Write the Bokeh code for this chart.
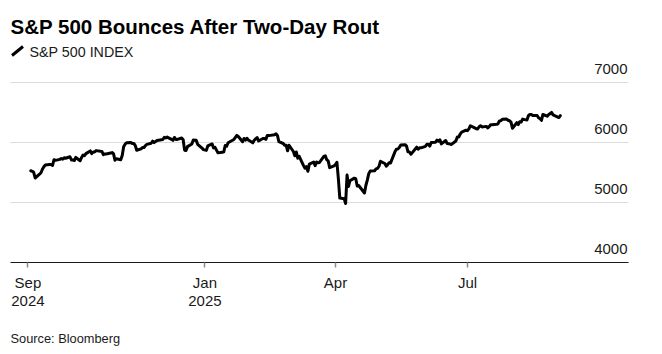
from datetime import datetime, timedelta
import pandas as pd
from bokeh.plotting import figure
from bokeh.models import (Range1d, FixedTicker, Label, Arrow, ColumnDataSource,
                          DatetimeAxis)
from bokeh.core.properties import value
from bokeh.embed import file_html
from bokeh.resources import INLINE

TITLE = "S&P 500 Bounces After Two-Day Rout"
SERIES_NAME = "S&P 500 INDEX"
SOURCE = "Source: Bloomberg"

DATES = [
    # Sep 2024
    "2024-09-03", "2024-09-04", "2024-09-05", "2024-09-06", "2024-09-09", "2024-09-10", "2024-09-11",
    "2024-09-12", "2024-09-13", "2024-09-16", "2024-09-17", "2024-09-18", "2024-09-19", "2024-09-20",
    "2024-09-23", "2024-09-24", "2024-09-25", "2024-09-26", "2024-09-27", "2024-09-30",
    # Oct 2024
    "2024-10-01", "2024-10-02", "2024-10-03", "2024-10-04", "2024-10-07", "2024-10-08", "2024-10-09",
    "2024-10-10", "2024-10-11", "2024-10-14", "2024-10-15", "2024-10-16", "2024-10-17", "2024-10-18",
    "2024-10-21", "2024-10-22", "2024-10-23", "2024-10-24", "2024-10-25", "2024-10-28", "2024-10-29",
    "2024-10-30", "2024-10-31",
    # Nov 2024
    "2024-11-01", "2024-11-04", "2024-11-05", "2024-11-06", "2024-11-07", "2024-11-08", "2024-11-11",
    "2024-11-12", "2024-11-13", "2024-11-14", "2024-11-15", "2024-11-18", "2024-11-19", "2024-11-20",
    "2024-11-21", "2024-11-22", "2024-11-25", "2024-11-26", "2024-11-27", "2024-11-29",
    # Dec 2024
    "2024-12-02", "2024-12-03", "2024-12-04", "2024-12-05", "2024-12-06", "2024-12-09", "2024-12-10",
    "2024-12-11", "2024-12-12", "2024-12-13", "2024-12-16", "2024-12-17", "2024-12-18", "2024-12-19",
    "2024-12-20", "2024-12-23", "2024-12-24", "2024-12-26", "2024-12-27", "2024-12-30", "2024-12-31",
    # Jan 2025
    "2025-01-02", "2025-01-03", "2025-01-06", "2025-01-07", "2025-01-08", "2025-01-10", "2025-01-13",
    "2025-01-14", "2025-01-15", "2025-01-16", "2025-01-17", "2025-01-21", "2025-01-22", "2025-01-23",
    "2025-01-24", "2025-01-27", "2025-01-28", "2025-01-29", "2025-01-30", "2025-01-31",
    # Feb 2025
    "2025-02-03", "2025-02-04", "2025-02-05", "2025-02-06", "2025-02-07", "2025-02-10", "2025-02-11",
    "2025-02-12", "2025-02-13", "2025-02-14", "2025-02-18", "2025-02-19", "2025-02-20", "2025-02-21",
    "2025-02-24", "2025-02-25", "2025-02-26", "2025-02-27", "2025-02-28",
    # Mar 2025
    "2025-03-03", "2025-03-04", "2025-03-05", "2025-03-06", "2025-03-07", "2025-03-10", "2025-03-11",
    "2025-03-12", "2025-03-13", "2025-03-14", "2025-03-17", "2025-03-18", "2025-03-19", "2025-03-20",
    "2025-03-21", "2025-03-24", "2025-03-25", "2025-03-26", "2025-03-27", "2025-03-28", "2025-03-31",
    # Apr 2025
    "2025-04-01", "2025-04-02", "2025-04-03", "2025-04-04", "2025-04-07", "2025-04-08", "2025-04-09",
    "2025-04-10", "2025-04-11", "2025-04-14", "2025-04-15", "2025-04-16", "2025-04-17", "2025-04-21",
    "2025-04-22", "2025-04-23", "2025-04-24", "2025-04-25", "2025-04-28", "2025-04-29", "2025-04-30",
    # May 2025
    "2025-05-01", "2025-05-02", "2025-05-05", "2025-05-06", "2025-05-07", "2025-05-08", "2025-05-09",
    "2025-05-12", "2025-05-13", "2025-05-14", "2025-05-15", "2025-05-16", "2025-05-19", "2025-05-20",
    "2025-05-21", "2025-05-22", "2025-05-23", "2025-05-27", "2025-05-28", "2025-05-29", "2025-05-30",
    # Jun 2025
    "2025-06-02", "2025-06-03", "2025-06-04", "2025-06-05", "2025-06-06", "2025-06-09", "2025-06-10",
    "2025-06-11", "2025-06-12", "2025-06-13", "2025-06-16", "2025-06-17", "2025-06-18", "2025-06-20",
    "2025-06-23", "2025-06-24", "2025-06-25", "2025-06-26", "2025-06-27", "2025-06-30",
    # Jul 2025
    "2025-07-01", "2025-07-02", "2025-07-03", "2025-07-07", "2025-07-08", "2025-07-09", "2025-07-10",
    "2025-07-11", "2025-07-14", "2025-07-15", "2025-07-16", "2025-07-17", "2025-07-18", "2025-07-21",
    "2025-07-22", "2025-07-23", "2025-07-24", "2025-07-25", "2025-07-28", "2025-07-29", "2025-07-30",
    "2025-07-31",
    # Aug 2025
    "2025-08-01", "2025-08-04", "2025-08-05", "2025-08-06", "2025-08-07", "2025-08-08", "2025-08-11",
    "2025-08-12", "2025-08-13", "2025-08-14", "2025-08-15", "2025-08-18", "2025-08-19", "2025-08-20",
    "2025-08-21", "2025-08-22", "2025-08-25", "2025-08-26", "2025-08-27", "2025-08-28", "2025-08-29",
    # Sep 2025
    "2025-09-02", "2025-09-03",
]

CLOSES = [
    # Sep 2024
    5528.9, 5520.1, 5503.4, 5408.4, 5471.1, 5495.5, 5554.1, 5595.8, 5626.0, 5633.1, 5634.6, 5618.3,
    5713.6, 5702.6, 5718.6, 5732.9, 5722.3, 5745.4, 5738.2, 5762.5,
    # Oct 2024
    5708.8, 5709.5, 5699.9, 5751.1, 5695.9, 5751.1, 5792.0, 5780.1, 5815.0, 5859.9, 5815.3, 5842.5,
    5841.5, 5864.7, 5854.0, 5851.2, 5797.4, 5809.9, 5808.1, 5823.5, 5832.9, 5813.7, 5705.5,
    # Nov 2024
    5728.8, 5712.7, 5782.8, 5929.0, 5973.1, 5995.5, 6001.4, 5984.0, 5985.4, 5949.2, 5870.6, 5893.6,
    5917.0, 5917.1, 5948.7, 5969.3, 5987.4, 6021.6, 5998.7, 6032.4,
    # Dec 2024
    6047.2, 6049.9, 6086.5, 6075.1, 6090.3, 6052.9, 6034.9, 6084.2, 6051.3, 6051.1, 6074.1, 6050.6,
    5872.2, 5867.1, 5930.9, 5974.1, 6040.0, 6037.6, 5970.8, 5906.9, 5881.6,
    # Jan 2025
    5868.6, 5942.5, 5975.4, 5909.0, 5918.3, 5827.0, 5836.2, 5842.9, 5949.9, 5937.3, 5996.7, 6049.2,
    6086.4, 6118.7, 6101.2, 6012.3, 6067.7, 6039.3, 6071.2, 6040.5,
    # Feb 2025
    5994.6, 6037.9, 6061.5, 6083.6, 6026.0, 6066.4, 6068.5, 6052.0, 6115.1, 6114.6, 6129.6, 6144.2,
    6117.5, 6013.1, 5983.3, 5955.3, 5956.1, 5861.6, 5954.5,
    # Mar 2025
    5849.7, 5778.2, 5842.6, 5738.5, 5770.2, 5614.6, 5572.1, 5599.3, 5521.5, 5638.9, 5675.1, 5614.7,
    5675.3, 5662.9, 5667.6, 5767.6, 5776.7, 5712.2, 5693.3, 5580.9, 5611.9,
    # Apr 2025
    5633.1, 5671.0, 5396.5, 5074.1, 5062.3, 4982.8, 5456.9, 5268.1, 5363.4, 5406.0, 5396.6, 5275.7,
    5282.7, 5158.2, 5287.8, 5375.9, 5484.8, 5525.2, 5528.8, 5560.8, 5569.1,
    # May 2025
    5604.1, 5686.7, 5650.4, 5606.9, 5631.3, 5663.9, 5659.9, 5844.2, 5886.6, 5892.6, 5916.9, 5958.4,
    5963.6, 5940.5, 5844.6, 5842.0, 5802.8, 5921.5, 5888.6, 5912.2, 5911.7,
    # Jun 2025
    5935.9, 5970.4, 5970.8, 5939.3, 6000.4, 6005.9, 6038.8, 6022.2, 6045.3, 5977.0, 6033.1, 5982.7,
    5980.9, 5967.8, 6025.2, 6092.2, 6092.2, 6141.0, 6173.1, 6205.0,
    # Jul 2025
    6198.0, 6227.4, 6279.4, 6230.0, 6225.5, 6263.3, 6280.5, 6259.8, 6268.6, 6243.8, 6263.7, 6297.4,
    6296.8, 6305.6, 6309.6, 6358.9, 6363.4, 6388.6, 6389.8, 6370.9, 6362.9, 6339.4,
    # Aug 2025
    6238.0, 6329.9, 6299.2, 6345.1, 6340.0, 6389.5, 6373.5, 6445.8, 6466.6, 6468.5, 6449.8, 6449.2,
    6411.4, 6395.8, 6370.2, 6466.9, 6439.3, 6465.9, 6481.4, 6501.9, 6460.3,
    # Sep 2025
    6415.5, 6448.3,
]

Y_TICKS = [4000, 5000, 6000, 7000]
Y_TICK_LABELS = ["4000", "5000", "6000", "7000"]
X_TICKS = ["2024-09-01", "2025-01-01", "2025-04-01", "2025-07-01"]
X_TICK_LABELS = ["Sep\n2024", "Jan\n2025", "Apr", "Jul"]

# Plot-area extent (in data terms) and the page layout around it
AXIS_LEFT = datetime(2024, 8, 20)
AXIS_RIGHT = datetime(2025, 10, 20)
W, H = 662, 354
AREA_L, AREA_R, AREA_B = 10, 628, 262          # pixels of the plotting area
PX_PER_DAY = (AREA_R - AREA_L) / (AXIS_RIGHT - AXIS_LEFT).days
PX_PER_UNIT = 60 / 1000                          # 60 px per 1000 index points

x_range = Range1d(AXIS_LEFT - timedelta(days=AREA_L / PX_PER_DAY),
                  AXIS_RIGHT + timedelta(days=(W - AREA_R) / PX_PER_DAY))
y_range = Range1d(Y_TICKS[0] - (H - AREA_B) / PX_PER_UNIT,
                  Y_TICKS[0] + AREA_B / PX_PER_UNIT)

FONT = "Liberation Sans"
INK = "#1a1a1a"

dates = pd.to_datetime(DATES)
src = ColumnDataSource(dict(date=dates, close=CLOSES))

p = figure(width=W, height=H, x_axis_type="datetime",
           x_axis_location=None, y_axis_location=None,
           x_range=x_range, y_range=y_range,
           output_backend="svg", toolbar_location=None,
           min_border_left=0, min_border_right=0, min_border_top=0, min_border_bottom=0)
p.outline_line_color = None
p.background_fill_color = "white"
p.border_fill_color = "white"
p.grid.visible = False

# horizontal gridlines spanning the plotting area
n = len(Y_TICKS)
p.segment(x0=[AXIS_LEFT] * n, x1=[AXIS_RIGHT] * n, y0=Y_TICKS, y1=Y_TICKS,
          line_color="#dcdcdc", line_width=1)

# value labels sitting just above each gridline, right aligned
p.text(x=[AXIS_RIGHT] * n, y=Y_TICKS, text=Y_TICK_LABELS,
       text_align="right", text_baseline="middle", x_offset=-1, y_offset=-14,
       text_font=value(FONT), text_font_size="15px", text_color=INK)

# date axis along the 4000 line
tick_ms = [int(pd.Timestamp(t).value // 10**6) for t in X_TICKS]
xa = DatetimeAxis(fixed_location=Y_TICKS[0], bounds=(AXIS_LEFT, AXIS_RIGHT),
                  ticker=FixedTicker(ticks=tick_ms))
xa.major_label_overrides = {ms: lab for ms, lab in zip(tick_ms, X_TICK_LABELS)}
xa.axis_line_color = INK
xa.axis_line_width = 1
xa.major_tick_line_color = "#8c8c8c"
xa.major_tick_line_width = 1.5
xa.major_tick_in = 0
xa.major_tick_out = 5
xa.minor_tick_line_color = None
xa.major_label_standoff = 6
xa.major_label_text_font = FONT
xa.major_label_text_font_size = "15px"
xa.major_label_text_color = INK
xa.major_label_text_line_height = 1.08
p.add_layout(xa, "below")

p.line("date", "close", source=src, line_width=3, line_color="black",
       line_join="round", line_cap="round")

# title, legend key and source note (screen units measured from bottom-left)
p.add_layout(Label(x=10, y=H - 25.7, x_units="screen", y_units="screen", text=TITLE,
                   text_font=FONT, text_font_size="20.5px", text_font_style="bold",
                   text_color="black", text_baseline="middle"))
p.add_layout(Arrow(end=None, x_start=11.5, y_start=H - 55, x_end=22.5, y_end=H - 46,
                   start_units="screen", end_units="screen",
                   line_width=3, line_color="black"))
p.add_layout(Label(x=29, y=H - 51, x_units="screen", y_units="screen", text=SERIES_NAME,
                   text_font=FONT, text_font_size="14.3px", text_color=INK,
                   text_baseline="middle"))
p.add_layout(Label(x=10, y=H - 338, x_units="screen", y_units="screen", text=SOURCE,
                   text_font=FONT, text_font_size="12.8px", text_color=INK,
                   text_baseline="middle"))

open("out.html", "w").write(file_html(p, INLINE))
